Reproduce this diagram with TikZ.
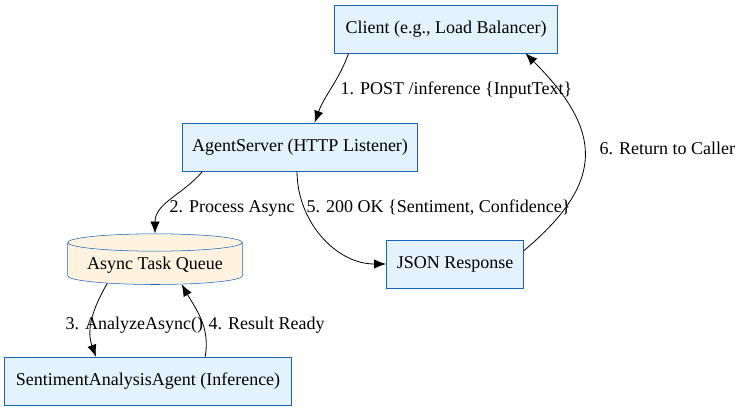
\documentclass[tikz,border=0pt]{standalone}
\usepackage{fontspec}
\setmainfont{Liberation Serif}
\usetikzlibrary{shapes.geometric,arrows.meta}
\definecolor{boxfill}{HTML}{E3F2FD}
\definecolor{boxline}{HTML}{1565C0}
\definecolor{queuefill}{HTML}{FFF3E0}
\begin{document}
\begin{tikzpicture}[x=0.75pt,y=-0.75pt,font=\fontsize{13.5}{16}\selectfont,
    box/.style={draw=boxline,fill=boxfill,minimum height=36pt,inner xsep=6pt},
    flow/.style={-{Latex[length=9pt,width=7pt]},semithick}]
    \useasboundingbox (0,0) rectangle (739,413);

    \node[box,minimum width=167pt] (client) at (446,29) {Client (e.g., Load Balancer)};
    \node[box,minimum width=176pt] (server) at (300,147) {AgentServer (HTTP Listener)};
    \node[draw=boxline,fill=queuefill,cylinder,shape border rotate=90,aspect=0.12,
        minimum width=131pt,minimum height=38pt] (queue) at (155,265) {Async Task Queue};
    \node[box,minimum width=103pt] (json) at (455,264) {JSON Response};
    \node[box,minimum width=215pt] (agent) at (148,381) {SentimentAnalysisAgent (Inference)};

    % requests
    \draw[flow] (client.194) to[out=-110,in=70] (server.59);
    \node[anchor=west] (l1) at (336,90) {1. POST /inference \{InputText\}};
    \draw[flow] (server.194) to[out=-130,in=90] (queue.north);
    \node[anchor=west] (l2) at (165,208) {2. Process Async};
    \draw[flow] (queue.201) to[out=-120,in=110] (agent.155);
    \node[anchor=west] (l3) at (61,325) {3. AnalyzeAsync()};
    \draw[flow] (agent.23) to[out=80,in=-60] (queue.324);
    \node[anchor=west] (l4) at (204,325) {4. Result Ready};

    % responses
    \draw[flow] (server.263) to[out=-90,in=180] (json.west);
    \node[anchor=west] (l5) at (302,208) {5. 200 OK \{Sentiment, Confidence\}};
    \draw[flow] (json.11) to[out=40,in=-45,looseness=1.4] (client.343);
    \node[anchor=west] (l6) at (595,148) {6. Return to Caller};
\end{tikzpicture}
\end{document}
